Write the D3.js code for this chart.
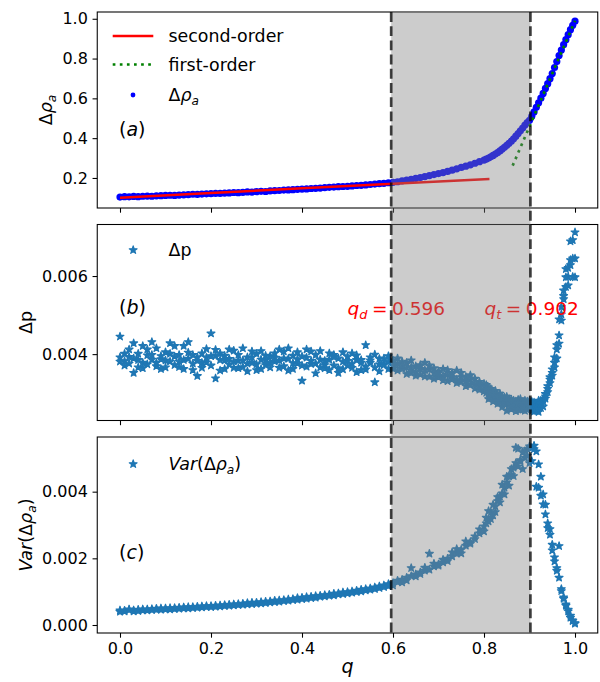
<!DOCTYPE html>
<html>
<head>
<meta charset="utf-8">
<script src="https://cdn.jsdelivr.net/npm/d3@7"></script>
<style>
  body { margin: 0; background: #fff; }
  svg { display: block; }
</style>
</head>
<body>
<div id="chart"></div>
<script>
// q values of the samples (shared by all three panels)
var qGrid = [
  0.00,0.01,0.02,0.03,0.04,0.05,0.06,0.07,0.08,0.09,
  0.10,0.11,0.12,0.13,0.14,0.15,0.16,0.17,0.18,0.19,
  0.20,0.21,0.22,0.23,0.24,0.25,0.26,0.27,0.28,0.29,
  0.30,0.31,0.32,0.33,0.34,0.35,0.36,0.37,0.38,0.39,
  0.40,0.41,0.42,0.43,0.44,0.45,0.46,0.47,0.48,0.49,
  0.50,0.51,0.52,0.53,0.54,0.55,0.56,0.57,0.58,0.59,
  0.60,0.61,0.62,0.63,0.64,0.65,0.66,0.67,0.68,0.69,
  0.70,0.71,0.72,0.73,0.74,0.75,0.76,0.77,0.78,0.79,
  0.80,0.805,0.81,0.815,0.82,0.825,0.83,0.835,0.84,0.845,
  0.85,0.855,0.86,0.865,0.87,0.875,0.88,0.885,0.89,0.895,
  0.90,0.905,0.91,0.915,0.92,0.925,0.93,0.935,0.94,0.945,
  0.95,0.955,0.96,0.965,0.97,0.975,0.98,0.985,0.99,0.995,
  1.00
];

// panel (a): delta rho_a
var rhoVals = [
  0.104,0.106,0.105,0.107,0.106,0.108,0.109,0.108,0.110,0.111,
  0.112,0.113,0.112,0.114,0.115,0.116,0.118,0.117,0.119,0.120,
  0.121,0.123,0.122,0.124,0.125,0.127,0.126,0.128,0.130,0.129,
  0.131,0.133,0.132,0.135,0.136,0.137,0.139,0.140,0.141,0.143,
  0.144,0.145,0.147,0.148,0.149,0.151,0.153,0.154,0.156,0.157,
  0.158,0.160,0.162,0.163,0.165,0.167,0.169,0.171,0.173,0.176,
  0.178,0.181,0.185,0.189,0.193,0.198,0.202,0.207,0.212,0.217,
  0.222,0.227,0.233,0.239,0.246,0.253,0.259,0.266,0.274,0.282,
  0.290,0.295,0.300,0.306,0.313,0.320,0.328,0.336,0.345,0.354,
  0.364,0.374,0.385,0.397,0.410,0.423,0.437,0.451,0.466,0.478,
  0.490,0.510,0.532,0.555,0.578,0.601,0.625,0.650,0.674,0.699,
  0.725,0.755,0.785,0.815,0.843,0.870,0.895,0.920,0.945,0.967,
  0.988
];
var fit2Q = [0, 0.2, 0.4, 0.6, 0.812];
var fit2Vals = [0.100, 0.124, 0.148, 0.171, 0.195];
var fit1Q = [0.863, 0.93, 1.0];
var fit1Vals = [0.262, 0.618, 0.99];

// panel (b): delta p, three runs
var dpRun1 = [
  0.00445,0.00382,0.00393,0.00352,0.00401,0.00378,0.00412,0.00386,0.00369,0.00395,
  0.00405,0.00381,0.00372,0.00398,0.00421,0.00388,0.00376,0.00344,0.00402,0.00391,
  0.00453,0.00338,0.00385,0.00396,0.00374,0.00409,0.00383,0.00367,0.00392,0.00378,
  0.00401,0.00386,0.00372,0.00395,0.00381,0.00412,0.00369,0.00388,0.00377,0.00405,
  0.00332,0.00391,0.00375,0.00398,0.00366,0.00383,0.00402,0.00371,0.00389,0.00361,
  0.00394,0.00376,0.00385,0.00359,0.00423,0.00378,0.00366,0.00388,0.00372,0.00381,
  0.00370,0.00358,0.00381,0.00349,0.00366,0.00355,0.00372,0.00343,0.00361,0.00337,
  0.00356,0.00344,0.00331,0.00352,0.00326,0.00341,0.00318,0.00335,0.00312,0.00329,
  0.00305,0.00321,0.00298,0.00311,0.00292,0.00306,0.00287,0.00299,0.00282,0.00276,
  0.00291,0.00271,0.00284,0.00262,0.00279,0.00268,0.00285,0.00258,0.00274,0.00263,
  0.00281,0.00266,0.00253,0.00272,0.00252,0.00281,0.00284,0.00298,0.00318,0.00335,
  0.00352,0.00378,0.00412,0.00448,0.00502,0.00541,0.00572,0.00598,0.00641,0.00692,
  0.00712
];
var dpRun2 = [
  0.00381,0.00371,0.00412,0.00389,0.00366,0.00421,0.00374,0.00398,0.00415,0.00362,
  0.00384,0.00401,0.00421,0.00367,0.00385,0.00404,0.00359,0.00392,0.00378,0.00413,
  0.00371,0.00396,0.00358,0.00384,0.00412,0.00365,0.00398,0.00384,0.00356,0.00407,
  0.00374,0.00362,0.00396,0.00378,0.00402,0.00365,0.00389,0.00415,0.00362,0.00376,
  0.00394,0.00368,0.00407,0.00351,0.00386,0.00372,0.00359,0.00398,0.00364,0.00381,
  0.00371,0.00402,0.00354,0.00385,0.00368,0.00392,0.00328,0.00374,0.00389,0.00362,
  0.00384,0.00375,0.00362,0.00378,0.00352,0.00369,0.00348,0.00359,0.00371,0.00352,
  0.00341,0.00362,0.00348,0.00336,0.00358,0.00329,0.00342,0.00321,0.00337,0.00309,
  0.00324,0.00301,0.00315,0.00289,0.00304,0.00285,0.00297,0.00276,0.00292,0.00289,
  0.00272,0.00285,0.00259,0.00278,0.00266,0.00283,0.00262,0.00277,0.00255,0.00279,
  0.00262,0.00278,0.00268,0.00256,0.00274,0.00262,0.00279,0.00286,0.00303,0.00326,
  0.00345,0.00366,0.00389,0.00427,0.00486,0.00549,0.00597,0.00576,0.00628,0.00645,
  0.00597
];
var dpRun3 = [
  0.00392,0.00401,0.00376,0.00428,0.00385,0.00364,0.00397,0.00431,0.00378,0.00387,
  0.00366,0.00428,0.00394,0.00381,0.00362,0.00431,0.00398,0.00383,0.00365,0.00379,
  0.00395,0.00411,0.00402,0.00362,0.00388,0.00381,0.00364,0.00415,0.00376,0.00392,
  0.00359,0.00408,0.00384,0.00366,0.00391,0.00384,0.00407,0.00358,0.00396,0.00387,
  0.00371,0.00412,0.00383,0.00376,0.00408,0.00364,0.00386,0.00393,0.00352,0.00405,
  0.00383,0.00365,0.00397,0.00378,0.00361,0.00384,0.00399,0.00356,0.00376,0.00395,
  0.00363,0.00389,0.00371,0.00366,0.00384,0.00345,0.00362,0.00378,0.00342,0.00364,
  0.00351,0.00333,0.00359,0.00341,0.00335,0.00352,0.00331,0.00346,0.00324,0.00318,
  0.00312,0.00309,0.00285,0.00298,0.00279,0.00294,0.00273,0.00288,0.00265,0.00281,
  0.00255,0.00279,0.00268,0.00281,0.00254,0.00273,0.00257,0.00269,0.00281,0.00258,
  0.00271,0.00255,0.00276,0.00262,0.00281,0.00273,0.00266,0.00292,0.00311,0.00341,
  0.00361,0.00392,0.00423,0.00489,0.00521,0.00563,0.00618,0.00621,0.00689,0.00598,
  0.00645
];

// panel (c): Var(delta rho_a), two runs
var varRun1 = [
  0.00040,0.00043,0.00045,0.00041,0.00046,0.00044,0.00047,0.00045,0.00049,0.00046,
  0.00050,0.00047,0.00051,0.00049,0.00053,0.00050,0.00054,0.00052,0.00056,0.00054,
  0.00057,0.00055,0.00059,0.00057,0.00061,0.00059,0.00063,0.00061,0.00066,0.00063,
  0.00067,0.00065,0.00070,0.00068,0.00073,0.00070,0.00075,0.00073,0.00078,0.00076,
  0.00082,0.00079,0.00085,0.00082,0.00088,0.00086,0.00091,0.00089,0.00095,0.00093,
  0.00099,0.00097,0.00103,0.00101,0.00108,0.00106,0.00113,0.00111,0.00119,0.00117,
  0.00126,0.00129,0.00136,0.00134,0.00147,0.00152,0.00158,0.00163,0.00214,0.00176,
  0.00182,0.00188,0.00199,0.00206,0.00214,0.00226,0.00238,0.00249,0.00266,0.00275,
  0.00296,0.00322,0.00311,0.00338,0.00329,0.00356,0.00372,0.00386,0.00395,0.00412,
  0.00428,0.00446,0.00451,0.00472,0.00486,0.00529,0.00495,0.00518,0.00502,0.00528,
  0.00536,0.00531,0.00538,0.00521,0.00482,0.00445,0.00392,0.00361,0.00305,0.00288,
  0.00241,0.00203,0.00171,0.00142,0.00108,0.00079,0.00058,0.00041,0.00022,0.00012,
  0.00004
];
var varRun2 = [
  0.00044,0.00041,0.00047,0.00044,0.00042,0.00047,0.00044,0.00048,0.00046,0.00050,
  0.00047,0.00051,0.00048,0.00052,0.00050,0.00054,0.00051,0.00055,0.00053,0.00057,
  0.00054,0.00058,0.00056,0.00060,0.00058,0.00062,0.00060,0.00064,0.00062,0.00067,
  0.00064,0.00069,0.00066,0.00071,0.00069,0.00074,0.00072,0.00077,0.00075,0.00081,
  0.00078,0.00084,0.00081,0.00087,0.00085,0.00090,0.00088,0.00094,0.00092,0.00098,
  0.00095,0.00101,0.00099,0.00106,0.00104,0.00110,0.00108,0.00116,0.00114,0.00123,
  0.00119,0.00133,0.00128,0.00142,0.00171,0.00146,0.00153,0.00172,0.00166,0.00184,
  0.00178,0.00196,0.00192,0.00218,0.00228,0.00215,0.00251,0.00244,0.00258,0.00287,
  0.00281,0.00305,0.00342,0.00318,0.00361,0.00339,0.00384,0.00368,0.00421,0.00392,
  0.00445,0.00418,0.00468,0.00447,0.00532,0.00476,0.00491,0.00468,0.00522,0.00508,
  0.00486,0.00492,0.00528,0.00415,0.00412,0.00388,0.00362,0.00332,0.00291,0.00271,
  0.00224,0.00191,0.00163,0.00237,0.00102,0.00083,0.00062,0.00046,0.00028,0.00014,
  0.00006
];

var qD = 0.596, qT = 0.902;
var xTicks = [0, 0.2, 0.4, 0.6, 0.8, 1.0];
var rhoTicks = [0.2, 0.4, 0.6, 0.8, 1.0];
var dpTicks = [0.004, 0.006];
var varTicks = [0, 0.002, 0.004];

var font = "DejaVu Sans, sans-serif";
var starBlue = "#1f77b4";

var svg = d3.select("#chart").append("svg")
  .attr("width", 600)
  .attr("height", 682);

var left = 97.25, right = 597.75;
var pa = {top: 12, bottom: 208},
    pb = {top: 224.5, bottom: 420.5},
    pc = {top: 437, bottom: 633};

var x = d3.scaleLinear().domain([-0.05, 1.05]).range([left, right]);
var yA = d3.scaleLinear().domain([0.049, 1.034]).range([pa.bottom, pa.top]);
var yB = d3.scaleLinear().domain([0.0023, 0.00732]).range([pb.bottom, pb.top]);
var yC = d3.scaleLinear().domain([-0.00024, 0.00564]).range([pc.bottom, pc.top]);

// clip each panel
function clip(id, p) {
  svg.append("clipPath").attr("id", id)
    .append("rect")
    .attr("x", left).attr("y", p.top)
    .attr("width", right - left).attr("height", p.bottom - p.top);
}
clip("clipA", pa); clip("clipB", pb); clip("clipC", pc);

// axes + frame
function axes(p, y, ticks, fmt, showX) {
  var gy = svg.append("g")
    .attr("transform", "translate(" + left + ",0)")
    .call(d3.axisLeft(y).tickValues(ticks).tickFormat(fmt)
      .tickSize(4.7).tickPadding(4.7).tickSizeOuter(0));
  var gx = svg.append("g")
    .attr("transform", "translate(0," + p.bottom + ")")
    .call(d3.axisBottom(x).tickValues(xTicks)
      .tickFormat(showX ? d3.format(".1f") : function() { return ""; })
      .tickSize(4.7).tickPadding(4.7).tickSizeOuter(0));
  [gy, gx].forEach(function(g) {
    g.attr("font-family", font).attr("font-size", 16);
    g.select(".domain").remove();
    g.selectAll("line").attr("stroke", "#000").attr("stroke-width", 1.07);
    g.selectAll("text").attr("fill", "#000");
  });
  svg.append("rect")
    .attr("x", left).attr("y", p.top)
    .attr("width", right - left).attr("height", p.bottom - p.top)
    .attr("fill", "none").attr("stroke", "#000").attr("stroke-width", 1.07);
}

// text with italic / subscript parts (mathtext look)
function mathText(sel, parts, fs) {
  var shift = 0;
  parts.forEach(function(p) {
    var ts = sel.append("tspan").text(p.t);
    if (p.it) ts.style("font-style", "italic");
    var want = p.sub ? fs * 0.22 : 0;
    if (want !== shift) { ts.attr("dy", want - shift); shift = want; }
    if (p.sub) ts.attr("font-size", fs * 0.7);
    if (p.dx) ts.attr("dx", p.dx);
  });
  return sel;
}

var rhoLabel = [{t: "Δ"}, {t: "ρ", it: true}, {t: "a", it: true, sub: true}];
var varLabel = [{t: "Var", it: true}, {t: "(Δ"}, {t: "ρ", it: true}, {t: "a", it: true, sub: true}, {t: ")"}];

var star = d3.symbol().type(d3.symbolStar).size(19);

function starMarks(g, pts, y) {
  g.selectAll(".star")
    .data(pts)
    .enter().append("path")
    .attr("class", "star")
    .attr("transform", function(d) { return "translate(" + x(d.q) + "," + y(d.v) + ")"; })
    .attr("d", star)
    .attr("fill", starBlue)
    .attr("stroke", starBlue)
    .attr("stroke-width", 1.2)
    .attr("stroke-linejoin", "round");
}

function runsToPoints(runs) {
  var pts = [];
  runs.forEach(function(run) {
    run.forEach(function(v, i) { pts.push({q: qGrid[i], v: v}); });
  });
  return pts;
}

// ---- panel (a)
var ga = svg.append("g").attr("clip-path", "url(#clipA)");
ga.selectAll(".dot")
  .data(rhoVals)
  .enter().append("circle")
  .attr("class", "dot")
  .attr("cx", function(d, i) { return x(qGrid[i]); })
  .attr("cy", function(d) { return yA(d); })
  .attr("r", 3.6)
  .attr("fill", "#0000ff");

ga.append("path")
  .datum(fit2Q.map(function(q, i) { return [q, fit2Vals[i]]; }))
  .attr("fill", "none")
  .attr("stroke", "#ff0000")
  .attr("stroke-width", 2.5)
  .attr("d", d3.line()
    .x(function(d) { return x(d[0]); })
    .y(function(d) { return yA(d[1]); }));

ga.append("path")
  .datum(fit1Q.map(function(q, i) { return [q, fit1Vals[i]]; }))
  .attr("fill", "none")
  .attr("stroke", "#008000")
  .attr("stroke-width", 2.7)
  .attr("stroke-dasharray", "2.7,4.4")
  .attr("d", d3.line()
    .x(function(d) { return x(d[0]); })
    .y(function(d) { return yA(d[1]); }));

// ---- panel (b)
var gb = svg.append("g").attr("clip-path", "url(#clipB)");
starMarks(gb, runsToPoints([dpRun1, dpRun2, dpRun3]), yB);

// ---- panel (c)
var gc = svg.append("g").attr("clip-path", "url(#clipC)");
starMarks(gc, runsToPoints([varRun1, varRun2]), yC);

axes(pa, yA, rhoTicks, d3.format(".1f"), false);
axes(pb, yB, dpTicks, d3.format(".3f"), false);
axes(pc, yC, varTicks, d3.format(".3f"), true);

// legends
var lx0 = 112.7, lx1 = 153.3, ltx = 168.5, lfs = 17.4;
svg.append("line").attr("x1", lx0).attr("x2", lx1).attr("y1", 36).attr("y2", 36)
  .attr("stroke", "#ff0000").attr("stroke-width", 2.5);
svg.append("line").attr("x1", lx0).attr("x2", lx1).attr("y1", 64.5).attr("y2", 64.5)
  .attr("stroke", "#008000").attr("stroke-width", 2.7).attr("stroke-dasharray", "2.7,4.4");
svg.append("circle").attr("cx", 133).attr("cy", 95).attr("r", 2.4).attr("fill", "#0000ff");
var legStars = svg.append("g");
starMarks(legStars, [{q: 0.029, v: 250}, {q: 0.029, v: 464}], function(v) { return v; });

function legText(y, parts) {
  var t = svg.append("text").attr("x", ltx).attr("y", y)
    .attr("font-family", font).attr("font-size", lfs).attr("fill", "#000");
  mathText(t, parts, lfs);
}
legText(42, [{t: "second-order"}]);
legText(70.5, [{t: "first-order"}]);
legText(101, rhoLabel);
legText(256, [{t: "Δp"}]);
legText(470, varLabel);

// panel tags
function tag(y, letter) {
  var t = svg.append("text").attr("x", 119).attr("y", y)
    .attr("font-family", font).attr("font-size", 19).attr("fill", "#000");
  mathText(t, [{t: "("}, {t: letter, it: true}, {t: ")"}], 19);
}
tag(136, "a");
tag(314, "b");
tag(559, "c");

// axis labels
function yLabel(cx, cy, parts) {
  var t = svg.append("text")
    .attr("transform", "translate(" + cx + "," + cy + ") rotate(-90)")
    .attr("text-anchor", "middle")
    .attr("font-family", font).attr("font-size", 17.5).attr("fill", "#000");
  mathText(t, parts, 17.5);
}
yLabel(52, (pa.top + pa.bottom) / 2, rhoLabel);
yLabel(32, (pb.top + pb.bottom) / 2, [{t: "Δp"}]);
yLabel(32, (pc.top + pc.bottom) / 2, varLabel);

svg.append("text")
  .attr("x", x(0.5)).attr("y", 673)
  .attr("text-anchor", "middle")
  .attr("font-family", font).attr("font-size", 19)
  .style("font-style", "italic")
  .text("q");

// transition markers text (panel b)
function qText(q0, sub, val) {
  var t = svg.append("text").attr("x", x(q0)).attr("y", yB(0.005))
    .attr("font-family", font).attr("font-size", 18.5).attr("fill", "#ff0000");
  mathText(t, [{t: "q", it: true}, {t: sub, it: true, sub: true},
               {t: "=", dx: 4.5}, {t: val, dx: 4.5}], 18.5);
}
qText(0.5, "d", qD.toFixed(3));
qText(0.801, "t", qT.toFixed(3));

// shaded region and dashed bounds over all panels
svg.append("rect")
  .attr("x", x(qD)).attr("y", pa.top)
  .attr("width", x(qT) - x(qD)).attr("height", pc.bottom - pa.top)
  .attr("fill", "#808080").attr("fill-opacity", 0.4);

[qD, qT].forEach(function(q) {
  svg.append("line")
    .attr("x1", x(q)).attr("x2", x(q))
    .attr("y1", pa.top).attr("y2", pc.bottom)
    .attr("stroke", "#000").attr("stroke-opacity", 0.75)
    .attr("stroke-width", 2.67)
    .attr("stroke-dasharray", "9.9,4.3");
});
</script>
</body>
</html>
